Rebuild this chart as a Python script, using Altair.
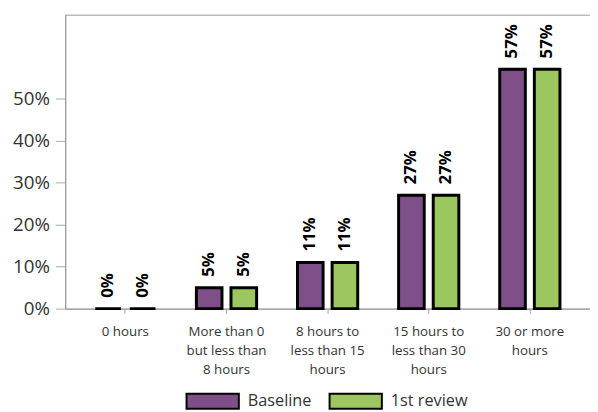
import altair as alt
import pandas as pd

categories = [
    "0 hours",
    "More than 0|but less than|8 hours",
    "8 hours to|less than 15|hours",
    "15 hours to|less than 30|hours",
    "30 or more|hours",
]
series = ["Baseline", "1st review"]
baseline = [0.0, 0.05, 0.11, 0.27, 0.57]
review1 = [0.0, 0.05, 0.11, 0.27, 0.57]
colors = ["#7f4f8a", "#9cc65f"]
y_ticks = [0, 0.1, 0.2, 0.3, 0.4, 0.5]

rows = []
for c, b, r in zip(categories, baseline, review1):
    rows.append({"cat": c, "series": series[0], "value": b})
    rows.append({"cat": c, "series": series[1], "value": r})
df = pd.DataFrame(rows)

FONT = "Open Sans"

x_enc = alt.X(
    "cat:N",
    sort=categories,
    scale=alt.Scale(paddingInner=0.37, paddingOuter=0.28),
    axis=alt.Axis(
        title=None,
        labelAngle=0,
        labelExpr="split(datum.label, '|')",
        labelFont=FONT,
        labelFontSize=13.5,
        labelColor="#333333",
        labelLineHeight=19.5,
        labelPadding=11,
        labelBaseline="top",
        tickSize=5,
        tickColor="#aaaaaa",
        domainColor="#999999",
        grid=False,
    ),
)
xoff = alt.XOffset(
    "series:N", sort=series,
    scale=alt.Scale(paddingInner=0.26, paddingOuter=0.05),
)

bars = alt.Chart(df).mark_bar(stroke="black", strokeWidth=3).encode(
    x=x_enc,
    xOffset=xoff,
    y=alt.Y(
        "value:Q",
        scale=alt.Scale(domain=[0, 0.7], nice=False),
        axis=alt.Axis(
            title=None,
            values=y_ticks,
            format=".0%",
            labelFont=FONT,
            labelFontSize=19,
            labelColor="#333333",
            labelPadding=6,
            tickSize=10,
            tickColor="#aaaaaa",
            domainColor="#999999",
            grid=False,
        ),
    ),
    color=alt.Color(
        "series:N",
        sort=series,
        scale=alt.Scale(domain=series, range=colors),
        legend=alt.Legend(
            title=None,
            orient="none",
            legendX=122,
            legendY=364,
            direction="horizontal",
            symbolType="M-1,-0.29H1V0.29H-1Z",
            symbolSize=2809,
            symbolStrokeColor="black",
            symbolStrokeWidth=2,
            symbolOpacity=1,
            labelFont=FONT,
            labelFontSize=16.5,
            labelColor="#333333",
            labelOffset=8,
            columnPadding=14,
        ),
    ),
)

labels = alt.Chart(df).mark_text(
    angle=270, align="left", baseline="middle", dx=11,
    font=FONT, fontSize=17, fontWeight="bold", color="black",
).encode(
    x=alt.X("cat:N", sort=categories),
    xOffset=alt.XOffset("series:N", sort=series),
    y=alt.Y("value:Q"),
    text=alt.Text("value:Q", format=".0%"),
)

chart = (
    alt.layer(bars, labels)
    .properties(
        width=532,
        height=298,
        autosize=alt.AutoSizeParams(type="none"),
        padding={"left": 58, "top": 4, "right": 0, "bottom": 102},
    )
    .configure_view(stroke="#999999", strokeWidth=1)
)

chart.save("out.html", embed_options={"renderer": "svg", "actions": False})
